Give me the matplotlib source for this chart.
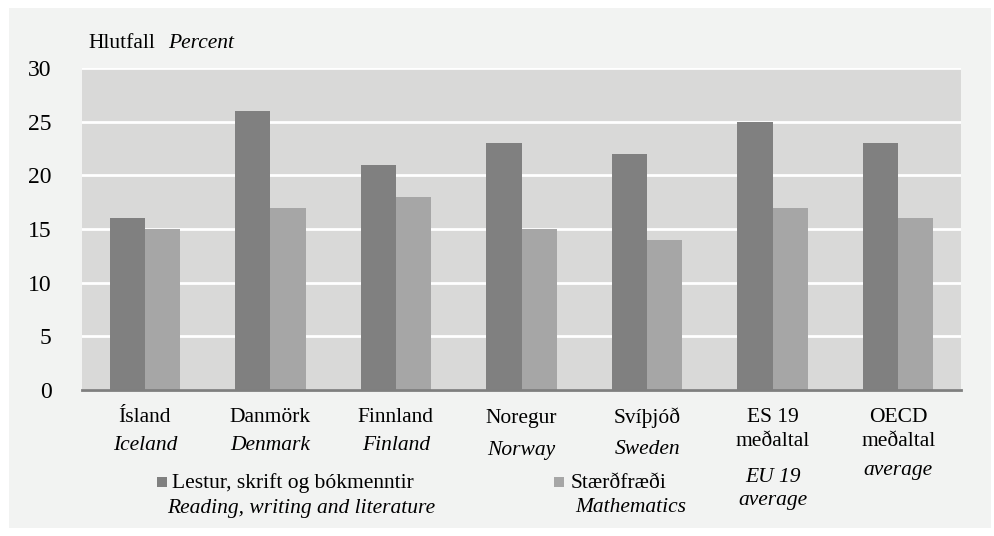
import matplotlib
matplotlib.use("Agg")
import matplotlib.pyplot as plt
from matplotlib.patches import Rectangle
import numpy as np

# data
categories_is = ["Ísland", "Danmörk", "Finnland", "Noregur", "Svíþjóð", "ES 19\nmeðaltal", "OECD\nmeðaltal"]
categories_en = ["Iceland", "Denmark", "Finland", "Norway", "Sweden", "EU 19\naverage", "average"]
reading = [16, 26, 21, 23, 22, 25, 23]
maths = [15, 17, 18, 15, 14, 17, 16]
series_is = ["Lestur, skrift og bókmenntir", "Stærðfræði"]
series_en = ["Reading, writing and literature", "Mathematics"]

DARK = "#808080"
LIGHT = "#a6a6a6"
PANEL = "#f2f3f2"
PLOT_BG = "#d9d9d8"
FONT = "Liberation Serif"
FS = 15.5

W, H = 995, 536
fig = plt.figure(figsize=(W / 100, H / 100), dpi=100)
fig.patch.set_facecolor("white")

# light panel behind everything
fig.add_artist(Rectangle((9 / W, 1 - 528 / H), (991 - 9) / W, (528 - 8) / H,
                         transform=fig.transFigure, facecolor=PANEL, edgecolor="none", zorder=-10))

ax = fig.add_axes([82 / W, 1 - 390 / H, (961 - 82) / W, (390 - 68) / H])
ax.set_facecolor(PLOT_BG)

x = np.arange(len(reading))
w = 0.28
ax.bar(x - w / 2, reading, width=w, color=DARK, zorder=3)
ax.bar(x + w / 2, maths, width=w, color=LIGHT, zorder=3)

ax.set_xlim(-0.5, len(reading) - 0.5)
ax.set_ylim(0, 30)
ax.set_yticks(range(0, 31, 5))
ax.yaxis.grid(True, color="white", linewidth=2, zorder=1)
ax.set_axisbelow(True)
for s in ["top", "right", "left"]:
    ax.spines[s].set_visible(False)
ax.spines["bottom"].set_color("#7f7f7f")
ax.spines["bottom"].set_linewidth(2)
ax.spines["bottom"].set_zorder(4)
ax.tick_params(axis="y", length=0, pad=22, labelsize=17)
ax.tick_params(axis="x", length=0)
ax.set_xticks([])
for lab in ax.get_yticklabels():
    lab.set_fontfamily(FONT)

def px(xp, yp):
    return xp / W, 1 - yp / H

# two-language category labels, placed in figure pixels below the axis
en_y = [445, 445, 445, 450, 450, 477, 470]
for i in range(len(categories_is)):
    xf = ax.transData.transform((x[i], 0))[0] / W
    for k, line in enumerate(categories_is[i].split("\n")):
        fig.text(xf, 1 - (418 + 24 * k) / H, line, ha="center", va="center",
                 fontsize=FS, family=FONT)
    for k, line in enumerate(categories_en[i].split("\n")):
        fig.text(xf, 1 - (en_y[i] + 23 * k) / H, line, ha="center", va="center",
                 fontsize=FS, family=FONT, style="italic")

# y-axis title
fig.text(*px(88, 43), "Hlutfall", ha="left", va="center", fontsize=FS, family=FONT)
fig.text(*px(168, 43), "Percent", ha="left", va="center", fontsize=FS, family=FONT, style="italic")

# legend drawn by hand
legend_pos = [(157, 172, 167), (554, 571, 575)]
for (sq_x, t1_x, t2_x), name_is, name_en, col in zip(legend_pos, series_is, series_en, [DARK, LIGHT]):
    fig.add_artist(Rectangle(px(sq_x, 487), 10 / W, 10 / H, transform=fig.transFigure,
                             facecolor=col, edgecolor="none"))
    fig.text(*px(t1_x, 483), name_is, ha="left", va="center", fontsize=FS, family=FONT)
    fig.text(*px(t2_x, 508), name_en, ha="left", va="center", fontsize=FS, family=FONT, style="italic")

fig.savefig("out.png", dpi=100)
